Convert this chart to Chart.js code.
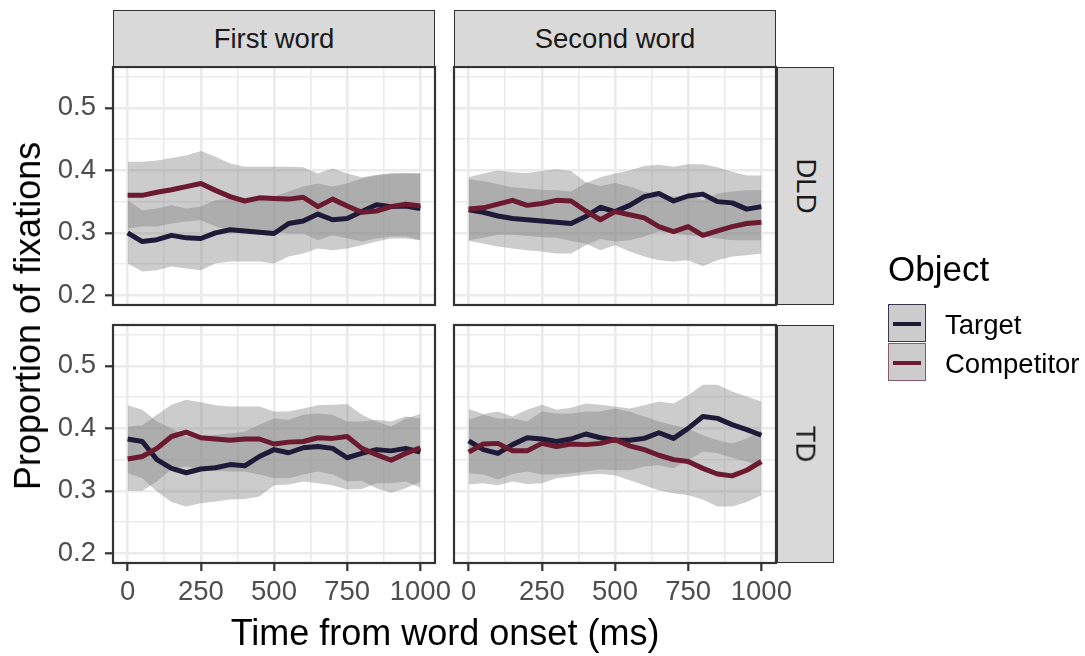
<!DOCTYPE html>
<html>
<head>
<meta charset="utf-8">
<script src="https://cdn.jsdelivr.net/npm/chart.js@4.4.1/dist/chart.umd.min.js"></script>
<style>
html,body{margin:0;padding:0;background:#ffffff;}
#wrap{position:relative;width:1085px;height:656px;overflow:hidden;background:#ffffff;font-family:"Liberation Sans",Arial,sans-serif;}
canvas{position:absolute;left:0;top:0;pointer-events:none;}
.strip{position:absolute;background:#d9d9d9;border:1.5px solid #333333;box-sizing:border-box;display:flex;align-items:center;justify-content:center;font-size:27.5px;color:#1a1a1a;}
.vtext{transform:rotate(90deg);white-space:nowrap;}
.txt{position:absolute;white-space:nowrap;line-height:1;}
.key{position:absolute;width:38px;height:38px;box-sizing:border-box;background:#cccccc;}
.keyline{position:absolute;left:4px;right:4px;top:16.5px;height:4.5px;}
</style>
</head>
<body>
<div id="wrap">
  <canvas id="c0" width="1085" height="656"></canvas>
  <canvas id="c1" width="1085" height="656"></canvas>
  <canvas id="c2" width="1085" height="656"></canvas>
  <canvas id="c3" width="1085" height="656"></canvas>
</div>
<script>
// ---------------- data ----------------
const timeMs = [0,50,100,150,200,250,300,350,400,450,500,550,600,650,700,750,800,850,900,950,1000];
const xMajorTicks = [0,250,500,750,1000];
const xMinorTicks = [125,375,625,875];
const yMajorTicks = [0.2,0.3,0.4,0.5];
const yMinorTicks = [0.25,0.35,0.45,0.55];
const columnLabels = ['First word','Second word'];
const rowLabels = ['DLD','TD'];
const seriesNames = ['Target','Competitor'];
const legendTitle = 'Object';
const xTitle = 'Time from word onset (ms)';
const yTitle = 'Proportion of fixations';

// DLD, First word
const dldFirstTarget      = [0.300,0.286,0.289,0.296,0.292,0.291,0.300,0.305,0.303,0.301,0.299,0.315,0.319,0.330,0.321,0.323,0.334,0.345,0.342,0.343,0.339];
const dldFirstTargetHi    = [0.352,0.336,0.339,0.344,0.339,0.342,0.352,0.355,0.352,0.353,0.358,0.366,0.374,0.379,0.374,0.379,0.387,0.392,0.395,0.395,0.395];
const dldFirstTargetLo    = [0.251,0.238,0.240,0.246,0.243,0.240,0.251,0.254,0.254,0.254,0.251,0.262,0.267,0.275,0.272,0.275,0.280,0.286,0.291,0.291,0.288];
const dldFirstCompetitor  = [0.360,0.360,0.365,0.369,0.374,0.379,0.368,0.358,0.351,0.356,0.355,0.354,0.357,0.342,0.354,0.343,0.333,0.335,0.342,0.346,0.343];
const dldFirstCompHi      = [0.414,0.414,0.416,0.420,0.424,0.431,0.422,0.411,0.406,0.406,0.406,0.406,0.405,0.395,0.403,0.395,0.389,0.393,0.395,0.396,0.395];
const dldFirstCompLo      = [0.307,0.310,0.310,0.315,0.318,0.320,0.310,0.304,0.302,0.302,0.302,0.299,0.299,0.288,0.296,0.291,0.286,0.291,0.294,0.294,0.288];

// DLD, Second word
const dldSecondTarget     = [0.337,0.333,0.327,0.323,0.321,0.319,0.317,0.315,0.326,0.341,0.334,0.344,0.358,0.363,0.351,0.359,0.362,0.350,0.348,0.338,0.342];
const dldSecondTargetHi   = [0.386,0.383,0.378,0.373,0.371,0.369,0.368,0.366,0.380,0.389,0.395,0.400,0.407,0.409,0.406,0.410,0.410,0.405,0.398,0.392,0.392];
const dldSecondTargetLo   = [0.287,0.283,0.278,0.275,0.272,0.270,0.267,0.267,0.280,0.290,0.286,0.288,0.294,0.302,0.299,0.296,0.294,0.291,0.288,0.288,0.288];
const dldSecondCompetitor = [0.338,0.340,0.346,0.352,0.344,0.347,0.352,0.351,0.335,0.321,0.334,0.329,0.324,0.310,0.302,0.310,0.296,0.303,0.310,0.315,0.317];
const dldSecondCompHi     = [0.389,0.395,0.400,0.397,0.396,0.399,0.402,0.399,0.381,0.375,0.380,0.374,0.366,0.360,0.358,0.360,0.352,0.363,0.366,0.368,0.368];
const dldSecondCompLo     = [0.288,0.292,0.297,0.297,0.295,0.293,0.292,0.287,0.283,0.272,0.280,0.270,0.262,0.256,0.254,0.256,0.247,0.256,0.262,0.264,0.267];

// TD, First word
const tdFirstTarget       = [0.383,0.379,0.350,0.336,0.329,0.335,0.337,0.342,0.340,0.355,0.366,0.361,0.369,0.371,0.368,0.353,0.360,0.366,0.364,0.368,0.362];
const tdFirstTargetHi     = [0.437,0.430,0.411,0.400,0.387,0.387,0.390,0.392,0.395,0.406,0.416,0.414,0.422,0.424,0.422,0.411,0.411,0.414,0.411,0.419,0.416];
const tdFirstTargetLo     = [0.328,0.320,0.299,0.282,0.275,0.280,0.283,0.286,0.287,0.291,0.309,0.310,0.315,0.312,0.309,0.302,0.303,0.312,0.312,0.315,0.305];
const tdFirstCompetitor   = [0.351,0.355,0.368,0.387,0.394,0.385,0.383,0.381,0.383,0.383,0.375,0.378,0.379,0.385,0.384,0.387,0.368,0.358,0.349,0.360,0.369];
const tdFirstCompHi       = [0.403,0.405,0.422,0.438,0.446,0.442,0.437,0.435,0.435,0.435,0.427,0.427,0.432,0.437,0.438,0.439,0.422,0.411,0.403,0.416,0.423];
const tdFirstCompLo       = [0.300,0.300,0.315,0.335,0.339,0.334,0.332,0.331,0.331,0.326,0.320,0.320,0.326,0.331,0.326,0.315,0.316,0.304,0.297,0.304,0.315];

// TD, Second word
const tdSecondTarget      = [0.380,0.366,0.360,0.374,0.385,0.383,0.379,0.383,0.391,0.385,0.381,0.381,0.384,0.393,0.384,0.400,0.419,0.416,0.406,0.398,0.389];
const tdSecondTargetHi    = [0.431,0.423,0.427,0.419,0.430,0.438,0.430,0.433,0.440,0.438,0.435,0.432,0.437,0.443,0.440,0.453,0.470,0.470,0.459,0.451,0.443];
const tdSecondTargetLo    = [0.328,0.326,0.318,0.327,0.331,0.326,0.326,0.328,0.331,0.334,0.333,0.333,0.339,0.341,0.336,0.349,0.363,0.360,0.353,0.347,0.339];
const tdSecondCompetitor  = [0.362,0.375,0.376,0.364,0.364,0.376,0.371,0.375,0.374,0.376,0.382,0.372,0.366,0.357,0.350,0.347,0.336,0.327,0.324,0.333,0.347];
const tdSecondCompHi      = [0.414,0.422,0.416,0.416,0.411,0.427,0.424,0.424,0.427,0.427,0.432,0.427,0.419,0.411,0.405,0.400,0.389,0.381,0.376,0.384,0.397];
const tdSecondCompLo      = [0.310,0.312,0.309,0.315,0.311,0.312,0.320,0.323,0.326,0.327,0.325,0.317,0.309,0.301,0.296,0.293,0.286,0.275,0.275,0.282,0.293];

// ---------------- style / layout ----------------
const FONT = '"Liberation Sans", Arial, sans-serif';
const TARGET_COLOR = '#1f1a38';
const COMP_COLOR = '#6c1a2f';
const RIBBON = 'rgba(127,127,127,0.4)';
const GRID = '#ebebeb';
const X_MIN = -50, X_MAX = 1050, Y_MIN = 0.1845, Y_MAX = 0.5655;
const W = 1085, H = 656;
const colLeft = [113, 454], colRight = [435, 776];
const rowTop = [67, 325], rowBottom = [305, 563];
const Y_AXIS_W = 60, X_AXIS_H = 40;

const near = (a, b) => Math.abs(a - b) < 1e-6;
const isIn = (list, v) => list.some(t => near(t, v));
const pts = arr => arr.map((v, i) => ({x: timeMs[i], y: v}));

const panelBorder = {
  id: 'panelBorder',
  afterDatasetsDraw(chart) {
    const {ctx, chartArea: a} = chart;
    ctx.save();
    ctx.strokeStyle = '#333333';
    ctx.lineWidth = 2.2;
    ctx.strokeRect(a.left, a.top, a.right - a.left, a.bottom - a.top);
    ctx.restore();
  }
};

function makePanel(canvasId, row, col, s) {
  const showY = col === 0, showX = row === 1;
  const lineDs = (label, data, color, order) => ({
    label, data: pts(data), borderColor: color, borderWidth: 5, pointRadius: 0,
    fill: false, order, tension: 0, borderJoinStyle: 'round', borderCapStyle: 'butt'
  });
  const bandDs = (label, data, fill, order) => ({
    label, data: pts(data), borderColor: 'rgba(0,0,0,0)', borderWidth: 0, pointRadius: 0,
    backgroundColor: RIBBON, fill, order, tension: 0
  });
  new Chart(document.getElementById(canvasId), {
    type: 'line',
    data: {
      datasets: [
        lineDs(seriesNames[1], s.comp, COMP_COLOR, 0),
        lineDs(seriesNames[0], s.target, TARGET_COLOR, 1),
        bandDs(seriesNames[0] + ' upper', s.targetHi, '+1', 2),
        bandDs(seriesNames[0] + ' lower', s.targetLo, false, 3),
        bandDs(seriesNames[1] + ' upper', s.compHi, '+1', 4),
        bandDs(seriesNames[1] + ' lower', s.compLo, false, 5)
      ]
    },
    options: {
      responsive: false, animation: false, events: [],
      devicePixelRatio: 1,
      layout: {
        autoPadding: false,
        padding: {
          left: colLeft[col] - (showY ? Y_AXIS_W : 0),
          right: W - colRight[col],
          top: rowTop[row],
          bottom: H - rowBottom[row] - (showX ? X_AXIS_H : 0)
        }
      },
      plugins: {legend: {display: false}, tooltip: {enabled: false}, title: {display: false}},
      scales: {
        x: {
          type: 'linear', position: 'bottom', min: X_MIN, max: X_MAX,
          afterBuildTicks: sc => { sc.ticks = [...xMajorTicks, ...xMinorTicks].sort((a, b) => a - b).map(v => ({value: v})); },
          afterFit: sc => { sc.height = showX ? X_AXIS_H : 0; sc.paddingLeft = 0; sc.paddingRight = 0; },
          ticks: {
            display: showX, autoSkip: false, maxRotation: 0, minRotation: 0, padding: 5,
            color: '#4d4d4d', font: {family: FONT, size: 27.5},
            callback: v => isIn(xMajorTicks, v) ? String(v) : ''
          },
          grid: {
            color: GRID,
            lineWidth: ctx => (ctx.tick && isIn(xMinorTicks, ctx.tick.value)) ? 1.6 : 2.6,
            drawTicks: showX, tickLength: 8, tickWidth: 2.2,
            tickColor: ctx => (ctx.tick && isIn(xMajorTicks, ctx.tick.value)) ? '#333333' : 'rgba(0,0,0,0)'
          },
          border: {display: false}
        },
        y: {
          type: 'linear', position: 'left', min: Y_MIN, max: Y_MAX,
          afterBuildTicks: sc => { sc.ticks = [...yMajorTicks, ...yMinorTicks].sort((a, b) => a - b).map(v => ({value: v})); },
          afterFit: sc => { sc.width = showY ? Y_AXIS_W : 0; sc.paddingTop = 0; sc.paddingBottom = 0; },
          ticks: {
            display: showY, autoSkip: false, padding: 9,
            color: '#4d4d4d', font: {family: FONT, size: 27.5},
            callback: v => isIn(yMajorTicks, v) ? v.toFixed(1) : ''
          },
          grid: {
            color: GRID,
            lineWidth: ctx => (ctx.tick && isIn(yMinorTicks, ctx.tick.value)) ? 1.6 : 2.6,
            drawTicks: showY, tickLength: 8, tickWidth: 2.2,
            tickColor: ctx => (ctx.tick && isIn(yMajorTicks, ctx.tick.value)) ? '#333333' : 'rgba(0,0,0,0)'
          },
          border: {display: false}
        }
      }
    },
    plugins: [panelBorder]
  });
}

makePanel('c0', 0, 0, {target: dldFirstTarget, targetHi: dldFirstTargetHi, targetLo: dldFirstTargetLo, comp: dldFirstCompetitor, compHi: dldFirstCompHi, compLo: dldFirstCompLo});
makePanel('c1', 0, 1, {target: dldSecondTarget, targetHi: dldSecondTargetHi, targetLo: dldSecondTargetLo, comp: dldSecondCompetitor, compHi: dldSecondCompHi, compLo: dldSecondCompLo});
makePanel('c2', 1, 0, {target: tdFirstTarget, targetHi: tdFirstTargetHi, targetLo: tdFirstTargetLo, comp: tdFirstCompetitor, compHi: tdFirstCompHi, compLo: tdFirstCompLo});
makePanel('c3', 1, 1, {target: tdSecondTarget, targetHi: tdSecondTargetHi, targetLo: tdSecondTargetLo, comp: tdSecondCompetitor, compHi: tdSecondCompHi, compLo: tdSecondCompLo});

// ---------------- strips, titles, legend (HTML text) ----------------
const wrap = document.getElementById('wrap');
function addEl(cls, style, text) {
  const d = document.createElement('div');
  d.className = cls;
  Object.assign(d.style, style);
  if (text !== undefined) d.textContent = text;
  wrap.appendChild(d);
  return d;
}
columnLabels.forEach((lab, c) => {
  addEl('strip', {left: colLeft[c] + 'px', top: '10px', width: (colRight[c] - colLeft[c]) + 'px', height: '57px'}, lab);
});
rowLabels.forEach((lab, r) => {
  const s = addEl('strip', {left: '777px', top: rowTop[r] + 'px', width: '57px', height: (rowBottom[r] - rowTop[r]) + 'px'});
  const t = document.createElement('div');
  t.className = 'vtext';
  t.textContent = lab;
  s.appendChild(t);
});
addEl('txt', {left: '445px', top: '615px', fontSize: '36px', color: '#000', transform: 'translateX(-50%)'}, xTitle);
addEl('txt', {left: '28px', top: '316px', fontSize: '36px', color: '#000', transform: 'translate(-50%,-50%) rotate(-90deg)'}, yTitle);
addEl('txt', {left: '888px', top: '251px', fontSize: '35px', color: '#000'}, legendTitle);
const keyTops = [304, 343];
const keyColors = [TARGET_COLOR, COMP_COLOR];
const keyBorders = ['rgba(31,26,56,0.85)', 'rgba(108,26,47,0.65)'];
seriesNames.forEach((name, i) => {
  const k = addEl('key', {left: '888px', top: keyTops[i] + 'px', border: '1.2px solid ' + keyBorders[i]});
  const l = document.createElement('div');
  l.className = 'keyline';
  l.style.background = keyColors[i];
  k.appendChild(l);
  addEl('txt', {left: '945px', top: (keyTops[i] + 7) + 'px', fontSize: '27.5px', color: '#000'}, name);
});
</script>
</body>
</html>
